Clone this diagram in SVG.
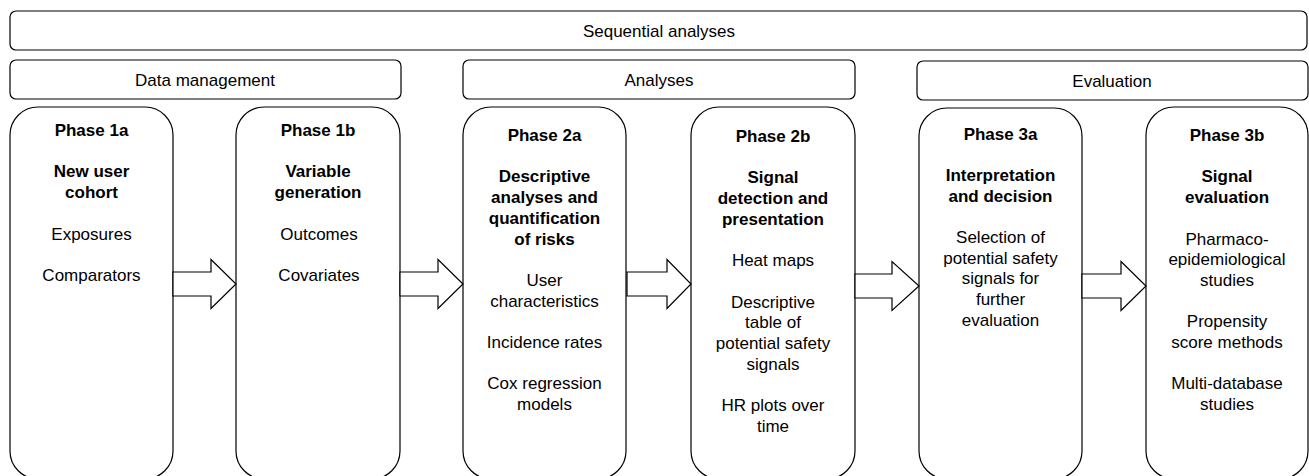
<svg xmlns="http://www.w3.org/2000/svg" width="1309" height="476" viewBox="0 0 1309 476">
<style>
.hdr{fill:#fff;stroke:#000;stroke-width:1.2}
.ph{fill:#fff;stroke:#000;stroke-width:1.2}
.arr{fill:#fff;stroke:#000;stroke-width:1.2;stroke-linejoin:miter}
text{font-family:"Liberation Sans",Arial,sans-serif;font-size:17px;fill:#000;text-anchor:middle}
.b{font-weight:bold}
</style>
<rect width="1309" height="476" fill="#fff"/>
<g id="sequential"><rect class="hdr" x="10" y="11" width="1297" height="39" rx="6"/><text x="659" y="37">Sequential analyses</text></g>
<g id="datamgmt"><rect class="hdr" x="10" y="60" width="391" height="39" rx="6"/><text x="205" y="86">Data management</text></g>
<g id="analyses"><rect class="hdr" x="463" y="60" width="392" height="39" rx="6"/><text x="659" y="86">Analyses</text></g>
<g id="evaluation"><rect class="hdr" x="917" y="61" width="391" height="39" rx="6"/><text x="1112" y="87">Evaluation</text></g>

<g id="phase1a"><rect class="ph" x="10" y="107" width="163" height="372" rx="28"/>
<text x="91.5" y="136" class="b">Phase 1a</text>
<text x="91.5" y="177.4" class="b">New user</text>
<text x="91.5" y="198.1" class="b">cohort</text>
<text x="91.5" y="239.5">Exposures</text>
<text x="91.5" y="280.9">Comparators</text></g>

<g id="phase1b"><rect class="ph" x="236" y="107" width="164" height="372" rx="28"/>
<text x="318" y="136" class="b">Phase 1b</text>
<text x="318" y="177.4" class="b">Variable</text>
<text x="318" y="198.1" class="b">generation</text>
<text x="319" y="239.5">Outcomes</text>
<text x="319" y="280.9">Covariates</text></g>

<g id="phase2a"><rect class="ph" x="463" y="107" width="163" height="372" rx="28"/>
<text x="544.5" y="141" class="b">Phase 2a</text>
<text x="544.5" y="182.4" class="b">Descriptive</text>
<text x="544.5" y="203.1" class="b">analyses and</text>
<text x="544.5" y="223.8" class="b">quantification</text>
<text x="544.5" y="244.5" class="b">of risks</text>
<text x="544.5" y="285.9">User</text>
<text x="544.5" y="306.6">characteristics</text>
<text x="544.5" y="348">Incidence rates</text>
<text x="544.5" y="389.4">Cox regression</text>
<text x="544.5" y="410.1">models</text></g>

<g id="phase2b"><rect class="ph" x="691" y="107" width="164" height="372" rx="28"/>
<text x="773" y="142" class="b">Phase 2b</text>
<text x="773" y="183.4" class="b">Signal</text>
<text x="773" y="204.1" class="b">detection and</text>
<text x="773" y="224.8" class="b">presentation</text>
<text x="773" y="266.2">Heat maps</text>
<text x="773" y="307.6">Descriptive</text>
<text x="773" y="328.3">table of</text>
<text x="773" y="349">potential safety</text>
<text x="773" y="369.7">signals</text>
<text x="773" y="411.1">HR plots over</text>
<text x="773" y="431.8">time</text></g>

<g id="phase3a"><rect class="ph" x="919" y="108" width="163" height="371" rx="28"/>
<text x="1000.5" y="139.5" class="b">Phase 3a</text>
<text x="1000.5" y="180.9" class="b">Interpretation</text>
<text x="1000.5" y="201.6" class="b">and decision</text>
<text x="1000.5" y="243">Selection of</text>
<text x="1000.5" y="263.7">potential safety</text>
<text x="1000.5" y="284.4">signals for</text>
<text x="1000.5" y="305.1">further</text>
<text x="1000.5" y="325.8">evaluation</text></g>

<g id="phase3b"><rect class="ph" x="1146" y="107" width="162" height="372" rx="28"/>
<text x="1227" y="141" class="b">Phase 3b</text>
<text x="1227" y="182.4" class="b">Signal</text>
<text x="1227" y="203.1" class="b">evaluation</text>
<text x="1227" y="244.5">Pharmaco-</text>
<text x="1227" y="265.2">epidemiological</text>
<text x="1227" y="285.9">studies</text>
<text x="1227" y="327.3">Propensity</text>
<text x="1227" y="348">score methods</text>
<text x="1227" y="389.4">Multi-database</text>
<text x="1227" y="410.1">studies</text></g>

<g id="connectors">
<polygon class="arr" points="173,272 211,272 211,259.5 236,284 211,308.5 211,296 173,296"/>
<polygon class="arr" points="400,272 438,272 438,259.5 463,284 438,308.5 438,296 400,296"/>
<polygon class="arr" points="627,272 667,272 667,259.5 691,284 667,308.5 667,296 627,296"/>
<polygon class="arr" points="855,274 892,274 892,261.5 919,286 892,310.5 892,298 855,298"/>
<polygon class="arr" points="1082,274 1121,274 1121,261.5 1146,286 1121,310.5 1121,298 1082,298"/>
</g>
</svg>
